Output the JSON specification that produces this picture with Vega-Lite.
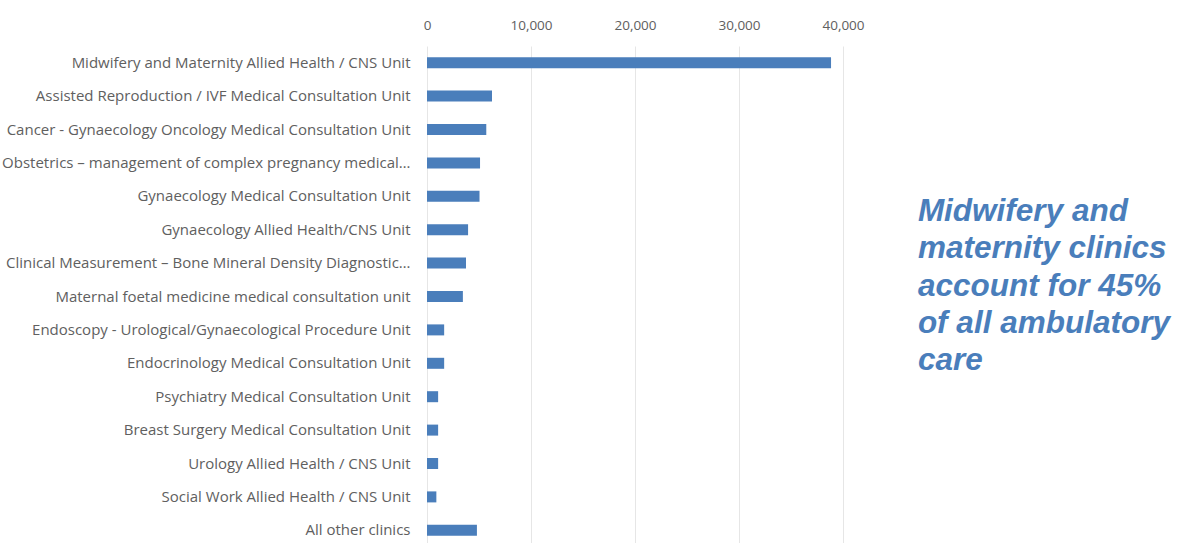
{
  "$schema": "https://vega.github.io/schema/vega-lite/v6.json",
  "autosize": "none",
  "width": 416,
  "height": 501,
  "padding": {"left": 427, "top": 46, "right": 334, "bottom": 0},
  "background": "white",
  "config": {"view": {"stroke": null}},
  "layer": [
    {
      "data": {"values": [
        {"clinic": "Midwifery and Maternity Allied Health / CNS Unit", "count": 38850},
        {"clinic": "Assisted Reproduction / IVF Medical Consultation Unit", "count": 6250},
        {"clinic": "Cancer - Gynaecology Oncology Medical Consultation Unit", "count": 5700},
        {"clinic": "Obstetrics – management of complex pregnancy medical…", "count": 5100},
        {"clinic": "Gynaecology Medical Consultation Unit", "count": 5050},
        {"clinic": "Gynaecology Allied Health/CNS Unit", "count": 3950},
        {"clinic": "Clinical Measurement – Bone Mineral Density Diagnostic…", "count": 3750},
        {"clinic": "Maternal foetal medicine medical consultation unit", "count": 3450},
        {"clinic": "Endoscopy - Urological/Gynaecological Procedure Unit", "count": 1650},
        {"clinic": "Endocrinology Medical Consultation Unit", "count": 1650},
        {"clinic": "Psychiatry Medical Consultation Unit", "count": 1070},
        {"clinic": "Breast Surgery Medical Consultation Unit", "count": 1070},
        {"clinic": "Urology Allied Health / CNS Unit", "count": 1070},
        {"clinic": "Social Work Allied Health / CNS Unit", "count": 900},
        {"clinic": "All other clinics", "count": 4800}
      ]},
      "mark": {"type": "bar", "color": "#4a7ebb", "size": 11},
      "encoding": {
        "y": {"field": "clinic", "type": "nominal", "sort": null, "title": null,
          "axis": {"ticks": false, "domain": false, "labelPadding": 17, "labelFont": "Open Sans", "labelFontSize": 15, "labelColor": "#606060", "labelLimit": 500}},
        "x": {"field": "count", "type": "quantitative", "title": null,
          "scale": {"domain": [0, 40000], "nice": false},
          "axis": {"orient": "top", "values": [0, 10000, 20000, 30000, 40000], "format": ",.0f", "ticks": false, "domain": false, "labelPadding": 14, "labelFont": "Open Sans", "labelFontSize": 13.5, "labelColor": "#606060", "gridColor": "#e6e6e6", "labelFlush": false}}
      }
    },
    {
      "data": {"values": [{"note": ["Midwifery and", "maternity clinics", "account for 45%", "of all ambulatory", "care"]}]},
      "mark": {"type": "text", "align": "left", "baseline": "middle", "font": "Liberation Sans", "fontSize": 31.5, "fontStyle": "italic", "fontWeight": "bold", "color": "#4a7ebb", "lineHeight": 37.3, "dy": -51, "clip": false},
      "encoding": {
        "x": {"datum": 47200, "type": "quantitative"},
        "y": {"datum": "Clinical Measurement – Bone Mineral Density Diagnostic…", "type": "nominal"},
        "text": {"field": "note"}
      }
    }
  ]
}
